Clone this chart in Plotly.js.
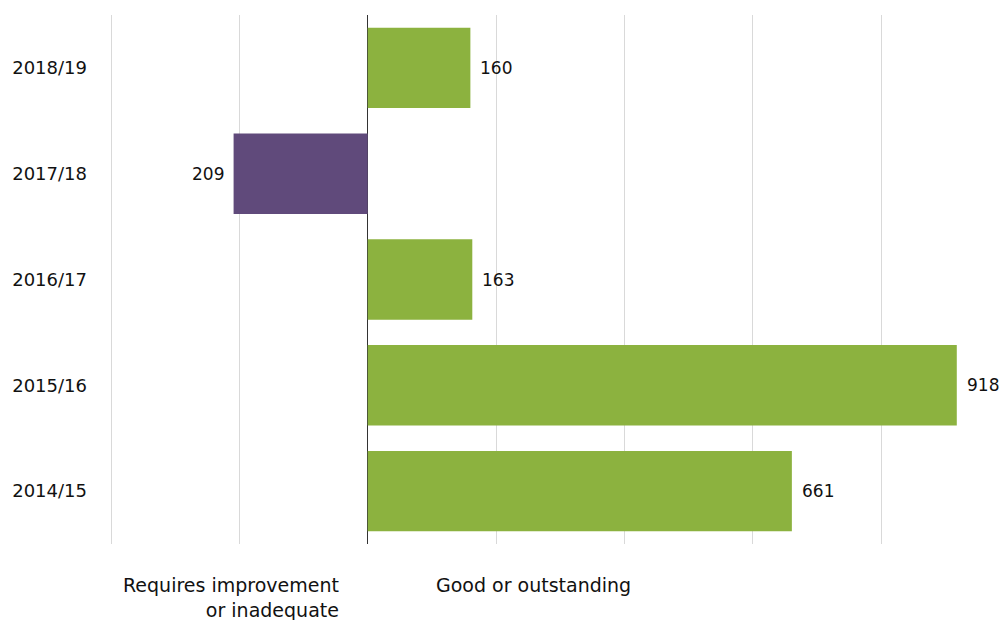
<!DOCTYPE html>
<html>
<head>
<meta charset="utf-8">
<script src="https://cdn.plot.ly/plotly-3.0.1.min.js"></script>
<style>html,body{margin:0;padding:0;background:#fff;}#chart{width:1001px;height:620px;}</style>
</head>
<body>
<div id="chart"></div>
<script>
var categories = ['2014/15', '2015/16', '2016/17', '2017/18', '2018/19'];
var goodOrOutstanding = [661, 918, 163, null, 160];
var requiresImprovement = [null, null, null, 209, null];
var sideLabels = ['Requires improvement<br>or inadequate', 'Good or outstanding'];

var green = '#8cb23f';
var purple = '#604a7b';
var font = 'DejaVu Sans, Verdana, sans-serif';

var traces = [
  {
    type: 'bar', orientation: 'h', y: categories, x: goodOrOutstanding,
    marker: {color: green}, hoverinfo: 'skip', name: 'Good or outstanding'
  },
  {
    type: 'bar', orientation: 'h', y: categories,
    x: requiresImprovement.map(function (v) { return v === null ? null : -v; }),
    marker: {color: purple}, hoverinfo: 'skip', name: 'Requires improvement or inadequate'
  }
];

var annotations = [];
categories.forEach(function (c, i) {
  if (goodOrOutstanding[i] !== null) {
    annotations.push({x: goodOrOutstanding[i], y: c, xref: 'x', yref: 'y', text: String(goodOrOutstanding[i]),
      showarrow: false, xanchor: 'left', xshift: 8, font: {family: font, size: 17, color: '#111'}});
  }
  if (requiresImprovement[i] !== null) {
    annotations.push({x: -requiresImprovement[i], y: c, xref: 'x', yref: 'y', text: String(requiresImprovement[i]),
      showarrow: false, xanchor: 'right', xshift: -8, font: {family: font, size: 17, color: '#111'}});
  }
});
annotations.push({x: -42, y: -0.053, xref: 'x', yref: 'paper', text: sideLabels[0], showarrow: false,
  xanchor: 'right', yanchor: 'top', align: 'right', font: {family: font, size: 19, color: '#111'}});
annotations.push({x: 104, y: -0.053, xref: 'x', yref: 'paper', text: sideLabels[1], showarrow: false,
  xanchor: 'left', yanchor: 'top', align: 'left', font: {family: font, size: 19, color: '#111'}});

var layout = {
  width: 1001, height: 620,
  margin: {l: 110, r: 0, t: 15, b: 76, pad: 0},
  paper_bgcolor: '#fff', plot_bgcolor: '#fff',
  barmode: 'relative', bargap: 0.24,
  showlegend: false,
  xaxis: {
    range: [-401.6, 986.9], dtick: 200, tick0: 0, showgrid: true, gridcolor: '#d9d9d9', gridwidth: 1,
    zeroline: true, zerolinecolor: '#333', zerolinewidth: 1.3,
    showticklabels: false, ticks: '', showline: false, fixedrange: true
  },
  yaxis: {
    type: 'category', categoryorder: 'array', categoryarray: categories,
    range: [-0.5, 4.5], showgrid: false, zeroline: false, showline: false,
    ticks: '', ticklabelstandoff: 22,
    tickfont: {family: font, size: 18, color: '#111'}, fixedrange: true
  },
  annotations: annotations
};

Plotly.newPlot('chart', traces, layout, {displayModeBar: false, staticPlot: true});
</script>
</body>
</html>
